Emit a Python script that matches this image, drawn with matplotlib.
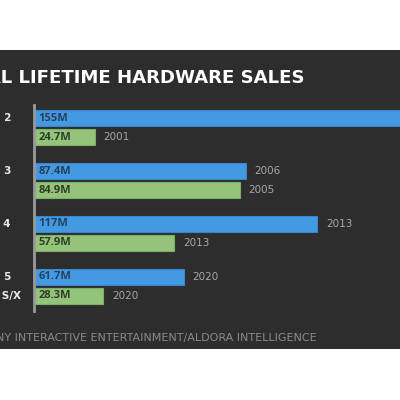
# Lifetime hardware sales, PlayStation vs Xbox
import matplotlib.pyplot as plt
from matplotlib.patches import Rectangle

# data
consoles = ['PLAYSTATION 2', 'PLAYSTATION 3', 'PLAYSTATION 4', 'PLAYSTATION 5']
ps_sales = [155, 87.4, 117, 61.7]
ps_years = ['2001', '2006', '2013', '2020']
xbox_sales = [24.7, 84.9, 57.9, 28.3]
xbox_years = ['2001', '2005', '2013', '2020']
xbox_label = 'XBOX SERIES S/X'

blue = '#4399e2'
green = '#93c47a'
bg = '#2d2d2d'

fig = plt.figure(figsize=(4, 4), dpi=100)
fig.patch.set_facecolor('white')
# dark slide panel
fig.patches.append(Rectangle((0, 0.1275), 1, 0.7475, transform=fig.transFigure,
                             facecolor=bg, edgecolor='none', zorder=-5))

ax = fig.add_axes([0.0875, 0.2225, 0.9125, 0.515])
ax.set_facecolor('none')

gap = 0.36
h = 0.305
ypos = list(range(len(consoles)))
ax.barh(ypos, ps_sales, height=h, color=blue, edgecolor='#3a86c9', linewidth=0.8)
ax.barh([y + gap for y in ypos], xbox_sales, height=h, color=green, edgecolor='#7fae68', linewidth=0.8)

for i in ypos:
    ax.text(1.5, i, f'{ps_sales[i]:g}M', va='center', ha='left', color='#26415c',
            fontsize=8, fontweight='bold', family='Open Sans')
    ax.text(1.5, i + gap, f'{xbox_sales[i]:g}M', va='center', ha='left', color='#2f3d28',
            fontsize=8, fontweight='bold', family='Open Sans')
    ax.text(ps_sales[i] + 3.7, i, ps_years[i], va='center', ha='left', color='#a8a8a8', fontsize=7.5)
    ax.text(xbox_sales[i] + 3.7, i + gap, xbox_years[i], va='center', ha='left', color='#a8a8a8', fontsize=7.5)
    ax.text(-10, i, consoles[i], va='center', ha='right', color='#e8e8e8', fontsize=7.5,
            fontweight='bold', clip_on=False)
ax.text(-6, 3 + gap, xbox_label, va='center', ha='right', color='#e8e8e8', fontsize=7.5,
        fontweight='bold', clip_on=False)

ax.set_xlim(0, 151.5)
ax.set_ylim(3.646, -0.248)
ax.set_xticks([])
ax.set_yticks([])
for s in ['top', 'right', 'bottom']:
    ax.spines[s].set_visible(False)
ax.spines['left'].set_color('#9a9a9a')
ax.spines['left'].set_linewidth(2)
ax.spines['left'].set_position(('outward', 1))

fig.text(0.7625, 0.805, 'TOTAL LIFETIME HARDWARE SALES', ha='right', va='center',
         color='white', fontsize=13.1, fontweight='bold')
fig.text(0.7925, 0.155, 'SOURCE: SONY INTERACTIVE ENTERTAINMENT/ALDORA INTELLIGENCE', ha='right',
         va='center', color='#8a8a8a', fontsize=8)

fig.savefig('out.png', dpi=100)
